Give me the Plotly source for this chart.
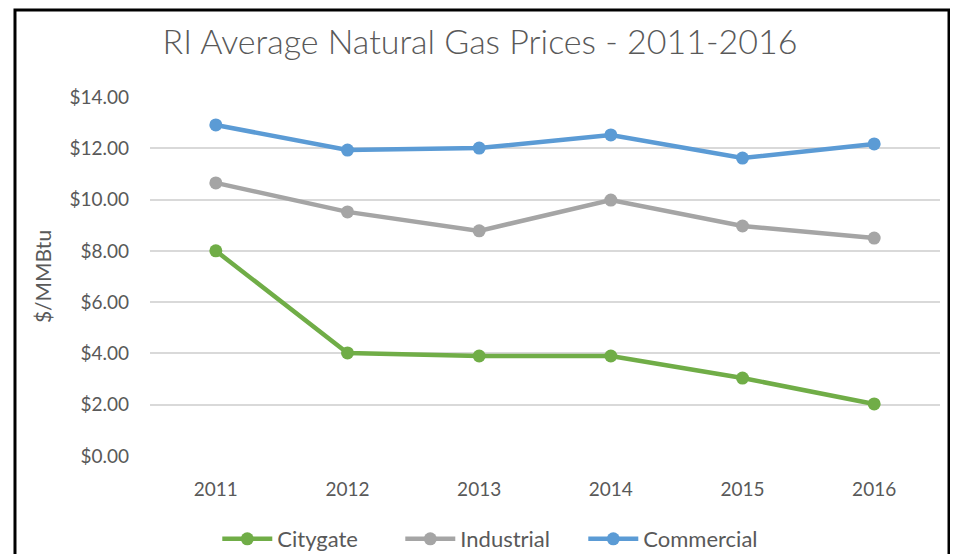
import plotly.graph_objects as go

years = ['2011', '2012', '2013', '2014', '2015', '2016']
citygate = [8.00, 4.02, 3.90, 3.90, 3.04, 2.03]
industrial = [10.65, 9.52, 8.78, 9.98, 8.97, 8.50]
commercial = [12.91, 11.93, 12.01, 12.52, 11.62, 12.17]

series = [('Citygate', citygate, '#70ad47'),
          ('Industrial', industrial, '#a5a5a5'),
          ('Commercial', commercial, '#5b9bd5')]

font_family = 'Lato, Open Sans, sans-serif'
txt = '#595959'

fig = go.Figure()
for name, vals, col in series:
    fig.add_trace(go.Scatter(x=years, y=vals, name=name, mode='lines+markers',
                             line=dict(color=col, width=4.5),
                             marker=dict(color=col, size=13)))

# page body has an 8px margin, so the margins are pulled in by 8px
fig.update_layout(
    width=958, height=554,
    paper_bgcolor='white', plot_bgcolor='white',
    margin=dict(l=142, r=26, t=89, b=106),
    title=dict(text='RI Average Natural Gas Prices - 2011-2016',
               x=0.4927, xanchor='center', y=0.9386, yanchor='middle',
               font=dict(family=font_family, size=34, color=txt, weight=300)),
    font=dict(family=font_family, color=txt),
    xaxis=dict(type='category', range=[-0.5, 5.5], showgrid=False, zeroline=False,
               showline=False, ticks='', automargin=False,
               tickfont=dict(size=19, color=txt), ticklabelstandoff=20),
    yaxis=dict(range=[0, 14], dtick=2, tickformat='$.2f', showgrid=True,
               gridcolor='#d9d9d9', gridwidth=1.5, zeroline=False, showline=False,
               ticks='', automargin=False, tickfont=dict(size=19, color=txt),
               ticklabelstandoff=20,
               title=dict(text='$/MMBtu', font=dict(size=21, color=txt), standoff=12)),
    legend=dict(orientation='h', x=0.505, xanchor='center', xref='container',
                y=0.0415, yanchor='middle', yref='container',
                font=dict(size=22, color=txt), itemwidth=50, entrywidth=118,
                tracegroupgap=0),
    shapes=[dict(type='rect', xref='paper', yref='paper',
                 x0=-0.1709, x1=1.0114, y0=-0.35, y1=1.2423,
                 line=dict(color='black', width=3), layer='above')],
    showlegend=True,
)

fig.write_html("out.html")
